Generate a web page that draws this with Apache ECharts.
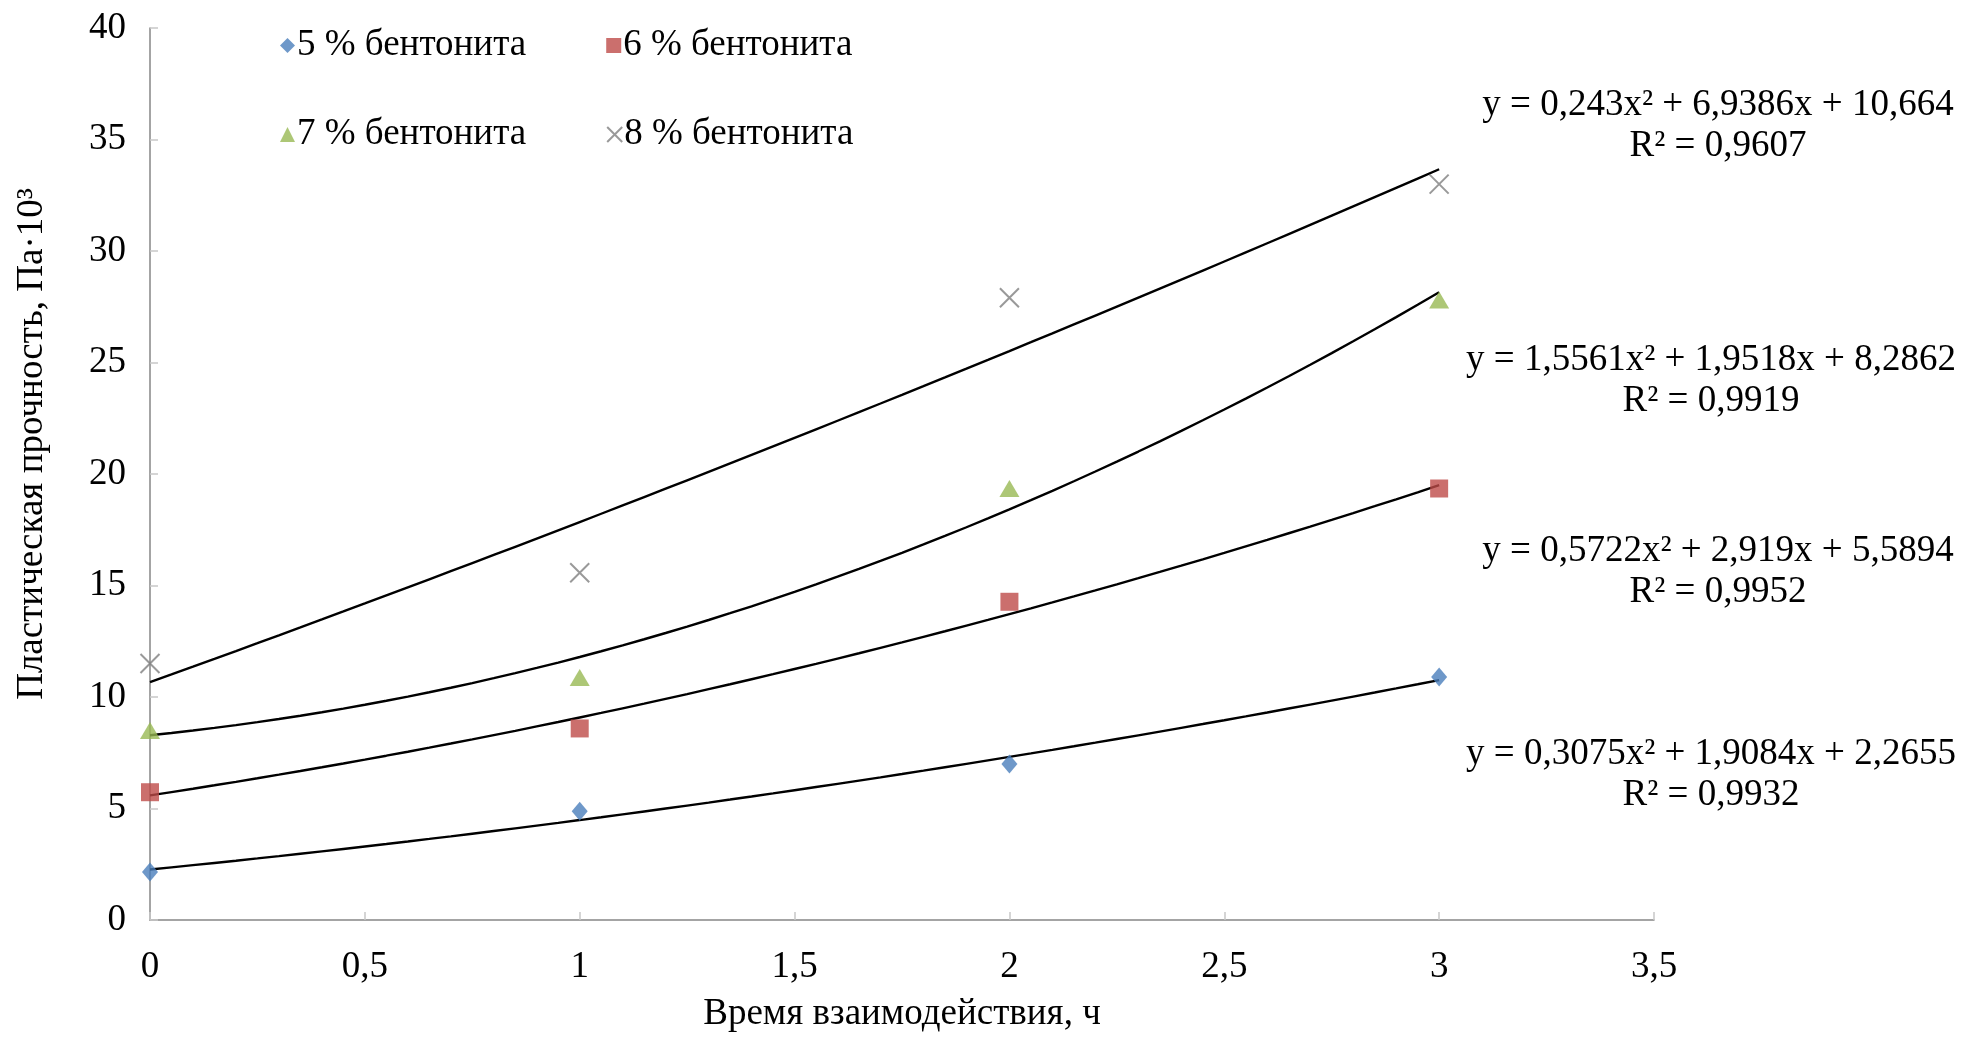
<!DOCTYPE html>
<html>
<head>
<meta charset="utf-8">
<script src="https://cdn.jsdelivr.net/npm/echarts@6/dist/echarts.min.js"></script>
<style>
  html, body { margin: 0; padding: 0; background: #ffffff; }
  #chart { width: 1978px; height: 1038px; }
</style>
</head>
<body>
<div id="chart"></div>
<script>
// Measured plastic strength (Pa·10³) against interaction time (h)
const timeHours = [0, 1, 2, 3];
const bentonite5 = [2.15, 4.88, 7.0, 10.9];
const bentonite6 = [5.73, 8.59, 14.27, 19.35];
const bentonite7 = [8.5, 10.87, 19.35, 27.8];
const bentonite8 = [11.5, 15.57, 27.9, 33.0];

const seriesNames = ['5 % бентонита', '6 % бентонита', '7 % бентонита', '8 % бентонита'];

// Quadratic trend coefficients [a, b, c] for y = a·x² + b·x + c, and R²
const fit5 = [0.3075, 1.9084, 2.2655];
const fit6 = [0.5722, 2.919, 5.5894];
const fit7 = [1.5561, 1.9518, 8.2862];
const fit8 = [0.243, 6.9386, 10.664];
const r2Values = [0.9932, 0.9952, 0.9919, 0.9607];

// Axis ticks
const xTickStep = 0.5, xMax = 3.5;
const yTickStep = 5, yMax = 40;

const values = [bentonite5, bentonite6, bentonite7, bentonite8];
const fits = [fit5, fit6, fit7, fit8];
const colors = ['#4A7EBB', '#BE4B48', '#98B954', '#7F7F7F'];
const symbols = ['diamond', 'rect', 'triangle', 'path://M0,0L10,10M10,0L0,10'];
const symbolSizes = [[16, 19], 18, [20, 17], 19];

const FONT = '"Liberation Serif", "Times New Roman", serif';
const FS = 37;
const comma = v => String(v).replace('.', ',');

function trendPoints(c) {
  const pts = [];
  const n = 60;
  for (let i = 0; i <= n; i++) {
    const x = 3 * i / n;
    pts.push([x, c[0] * x * x + c[1] * x + c[2]]);
  }
  return pts;
}

const series = [];
values.forEach((vals, i) => {
  series.push({
    name: 'trend-' + i,
    type: 'line',
    data: trendPoints(fits[i]),
    showSymbol: false,
    smooth: false,
    silent: true,
    lineStyle: { color: '#000000', width: 2.4 },
    z: 2
  });
});
values.forEach((vals, i) => {
  const isCross = i === 3;
  series.push({
    name: seriesNames[i],
    type: 'scatter',
    data: timeHours.map((t, k) => [t, vals[k]]),
    symbol: symbols[i],
    symbolSize: symbolSizes[i],
    itemStyle: isCross
      ? { color: 'rgba(0,0,0,0)', borderColor: colors[i], borderWidth: 2 }
      : { color: colors[i] },
    z: 3
  });
});

// Equation blocks beside each trend line (centre x, top line y)
const eqBlocks = [
  { fit: fit8, r2: r2Values[3], x: 1718, y: 105 },
  { fit: fit7, r2: r2Values[2], x: 1711, y: 360 },
  { fit: fit6, r2: r2Values[1], x: 1718, y: 551 },
  { fit: fit5, r2: r2Values[0], x: 1711, y: 754 }
];
const graphics = [];
eqBlocks.forEach(b => {
  const eq = 'y = ' + comma(b.fit[0]) + 'x² + ' + comma(b.fit[1]) + 'x + ' + comma(b.fit[2]);
  graphics.push({
    type: 'text', x: b.x, y: b.y,
    style: { text: eq, font: FS + 'px ' + FONT, fill: '#000', textAlign: 'center', textVerticalAlign: 'middle' }
  });
  graphics.push({
    type: 'text', x: b.x, y: b.y + 41,
    style: { text: 'R² = ' + comma(b.r2), font: FS + 'px ' + FONT, fill: '#000', textAlign: 'center', textVerticalAlign: 'middle' }
  });
});
graphics.push({
  type: 'text', x: 32, y: 444, rotation: Math.PI / 2,
  style: { text: 'Пластическая прочность, Па·10³', font: FS + 'px ' + FONT, fill: '#000', textAlign: 'center', textVerticalAlign: 'middle' }
});

const legendCommon = {
  orient: 'horizontal',
  itemWidth: 15,
  itemHeight: 15,
  itemGap: 80,
  textStyle: { fontFamily: FONT, fontSize: FS, color: '#000', padding: [0, 0, 0, -3] }
};

const chart = echarts.init(document.getElementById('chart'), null, { renderer: 'canvas' });
chart.setOption({
  animation: false,
  backgroundColor: '#ffffff',
  grid: { left: 150, right: 324, top: 28, bottom: 116, containLabel: false },
  legend: [
    Object.assign({}, legendCommon, { left: 275, top: 22, data: [seriesNames[0], seriesNames[1]] }),
    Object.assign({}, legendCommon, { left: 275, top: 111, data: [seriesNames[2], seriesNames[3]] })
  ],
  xAxis: {
    type: 'value',
    min: 0, max: xMax, interval: xTickStep,
    name: 'Время взаимодействия, ч',
    nameLocation: 'middle',
    nameGap: 76,
    nameTextStyle: { fontFamily: FONT, fontSize: FS, color: '#000' },
    axisLine: { lineStyle: { color: '#868686', width: 1.5 } },
    axisTick: { inside: true, length: 8, lineStyle: { color: '#c8c8c8', width: 1.5 } },
    axisLabel: { fontFamily: FONT, fontSize: FS, color: '#000', margin: 29, formatter: v => comma(v) },
    splitLine: { show: false }
  },
  yAxis: {
    type: 'value',
    min: 0, max: yMax, interval: yTickStep,
    axisLine: { show: true, lineStyle: { color: '#868686', width: 1.5 } },
    axisTick: { show: true, inside: true, length: 8, lineStyle: { color: '#c8c8c8', width: 1.5 } },
    axisLabel: { fontFamily: FONT, fontSize: FS, color: '#000', margin: 24 },
    splitLine: { show: false }
  },
  graphic: graphics,
  series: series
});
</script>
</body>
</html>
